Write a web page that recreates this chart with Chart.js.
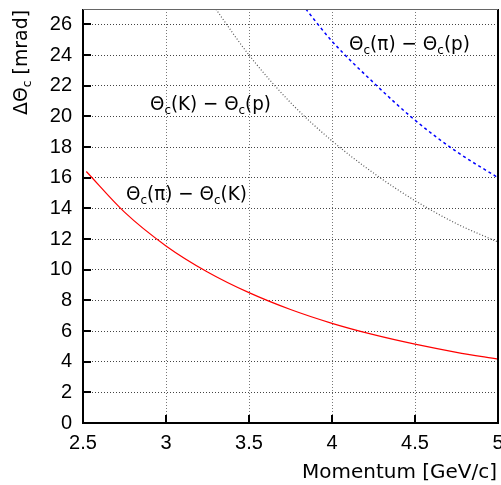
<!DOCTYPE html>
<html><head><meta charset="utf-8">
<script src="https://cdn.jsdelivr.net/npm/chart.js@4/dist/chart.umd.min.js"></script>
<style>html,body{margin:0;padding:0;background:#fff}#wrap{width:501px;height:485px}</style>
</head><body><div id="wrap"><canvas id="c" width="501" height="485"></canvas></div>
<script>
const xTicks = [2.5, 3, 3.5, 4, 4.5, 5];
const yTicks = [0,2,4,6,8,10,12,14,16,18,20,22,24,26];
const piK_x = [2.52, 2.75, 3, 3.25, 3.5, 3.75, 4, 4.25, 4.5, 4.75, 5];
const piK_y = [16.4, 13.75, 11.55, 9.85, 8.5, 7.4, 6.5, 5.76, 5.14, 4.61, 4.16];
const Kp_x = [3.28, 3.5, 3.75, 4, 4.25, 4.5, 4.75, 5];
const Kp_y = [27.3, 24.0, 20.9, 18.4, 16.3, 14.5, 13.0, 11.8];
const pip_x = [3.82, 4, 4.25, 4.5, 4.75, 5];
const pip_y = [27.3, 24.9, 22.2, 19.75, 17.7, 16.0];
const labels = [
  {x: 349, y: 45, parts: ['Θ','c','(π) − Θ','c','(p)']},
  {x: 150, y: 105, parts: ['Θ','c','(K) − Θ','c','(p)']},
  {x: 126, y: 195, parts: ['Θ','c','(π) − Θ','c','(K)']}
];
const FONT = '"Liberation Sans", Arial, sans-serif';
const TFONT = '"DejaVu Sans", sans-serif';
const pts = (xs, ys) => xs.map((x, i) => ({x, y: ys[i]}));

function partsWidth(ctx, parts, size, subSize, fam) {
  let w = 0;
  parts.forEach((p, i) => { ctx.font = (i % 2 ? subSize : size) + 'px ' + fam; w += ctx.measureText(p).width; });
  return w;
}
function drawParts(ctx, parts, x, y, size, subSize, fam, targetW) {
  const w = partsWidth(ctx, parts, size, subSize, fam);
  const sx = targetW ? targetW / w : 1;
  ctx.save();
  ctx.translate(x, y);
  ctx.scale(sx, 1);
  let cx = 0;
  parts.forEach((p, i) => {
    const sub = i % 2 === 1;
    ctx.font = (sub ? subSize : size) + 'px ' + fam;
    ctx.fillText(p, cx, sub ? size * 0.28 : 0);
    cx += ctx.measureText(p).width;
  });
  ctx.restore();
}

const deco = {
  id: 'deco',
  afterDraw(chart) {
    const ctx = chart.ctx, a = chart.chartArea;
    const xs = chart.scales.x, ys = chart.scales.y;
    ctx.save();
    ctx.strokeStyle = '#000';
    ctx.lineWidth = 2;
    ctx.beginPath();
    ctx.moveTo(a.left, a.top); ctx.lineTo(a.left, a.bottom); ctx.lineTo(a.right, a.bottom); ctx.lineTo(a.right, a.top);
    ctx.stroke();
    ctx.strokeStyle = '#666'; ctx.lineWidth = 1;
    ctx.beginPath(); ctx.moveTo(a.left, a.top + 0.5); ctx.lineTo(a.right, a.top + 0.5); ctx.stroke();
    ctx.strokeStyle = '#000'; ctx.lineWidth = 2;
    ctx.beginPath();
    yTicks.forEach(v => { const py = Math.round(ys.getPixelForValue(v)); ctx.moveTo(a.left, py); ctx.lineTo(a.left + 8, py); });
    xTicks.forEach(v => { const px = Math.round(xs.getPixelForValue(v)); ctx.moveTo(px, a.bottom); ctx.lineTo(px, a.bottom - 8); });
    ctx.stroke();
    ctx.fillStyle = '#000';
    ctx.textBaseline = 'middle';
    ctx.textAlign = 'left';
    labels.forEach(l => drawParts(ctx, l.parts, l.x, l.y, 20, 13, TFONT, 121));
    drawParts(ctx, ['Momentum [GeV/c]'], 302, 473, 19, 13, TFONT, 195);
    ctx.translate(22, a.top);
    ctx.rotate(-Math.PI / 2);
    drawParts(ctx, ['ΔΘ', 'c', ' [mrad]'], -106, 0, 20, 13, TFONT, 105);
    ctx.restore();
  }
};

new Chart(document.getElementById('c'), {
  type: 'scatter',
  data: {
    datasets: [
      {data: pts(piK_x, piK_y), showLine: true, borderColor: '#ff0000', borderWidth: 1.2, pointRadius: 0, cubicInterpolationMode: 'monotone'},
      {data: pts(Kp_x, Kp_y), showLine: true, borderColor: '#555555', borderWidth: 1.2, borderDash: [1, 2], pointRadius: 0, cubicInterpolationMode: 'monotone'},
      {data: pts(pip_x, pip_y), showLine: true, borderColor: '#0000ff', borderWidth: 1.5, borderDash: [3, 3], pointRadius: 0, cubicInterpolationMode: 'monotone'}
    ]
  },
  options: {
    responsive: false,
    animation: false,
    devicePixelRatio: 1,
    layout: {padding: {top: 9, right: 3, left: 0, bottom: 0}},
    plugins: {legend: {display: false}, tooltip: {enabled: false}},
    scales: {
      x: {
        type: 'linear', min: 2.5, max: 5,
        afterBuildTicks: s => { s.ticks = xTicks.map(v => ({value: v})); },
        afterFit: s => { s.height = 62; s.paddingLeft = 0; s.paddingRight = 0; },
        ticks: {color: '#000', font: {size: 20, family: FONT}, padding: 8, maxRotation: 0, callback: v => String(v)},
        grid: {color: '#777', lineWidth: 1, drawTicks: false},
        border: {display: false, dash: [1, 2]}
      },
      y: {
        type: 'linear', min: 0, max: 27,
        afterBuildTicks: s => { s.ticks = yTicks.map(v => ({value: v})); },
        afterFit: s => { s.width = 83; s.paddingTop = 0; s.paddingBottom = 0; },
        ticks: {color: '#000', font: {size: 20, family: FONT}, padding: 11, callback: v => String(v)},
        grid: {color: '#444', lineWidth: 1, drawTicks: false},
        border: {display: false, dash: [1, 2]}
      }
    }
  },
  plugins: [deco]
});
</script></body></html>
